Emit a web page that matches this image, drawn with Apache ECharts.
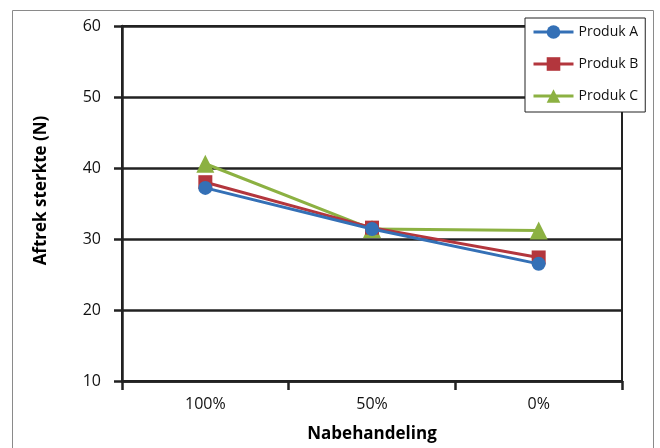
<!DOCTYPE html>
<html><head><meta charset="utf-8">
<script src="https://cdn.jsdelivr.net/npm/echarts@6/dist/echarts.min.js"></script>
<style>html,body{margin:0;padding:0;background:#fff}#c{width:660px;height:448px}</style>
</head><body><div id="c"></div>
<script>
const categories = ['100%', '50%', '0%'];
const produkA = [37.2, 31.4, 26.5];
const produkB = [38.0, 31.6, 27.4];
const produkC = [40.6, 31.4, 31.2];
const yTicks = [10, 20, 30, 40, 50, 60];

const chart = echarts.init(document.getElementById('c'));
const font = '"Open Sans", "DejaVu Sans", sans-serif';
function ser(name, data, color, symbol, size, z) {
  return {
    name, type: 'line', data, symbol, symbolSize: size, z,
    lineStyle: { color, width: 3 },
    itemStyle: { color },
    emphasis: { disabled: true }
  };
}
chart.setOption({
  animation: false,
  textStyle: { fontFamily: font },
  graphic: [{
    type: 'rect', shape: { x: 12.5, y: 10.5, width: 641, height: 460 },
    style: { fill: 'none', stroke: '#8a8a8a', lineWidth: 1 }, z: -1
  }],
  grid: { left: 122, right: 38, top: 26, bottom: 67, show: true, borderColor: '#222', borderWidth: 2 },
  legend: {
    left: 525, top: 18, orient: 'vertical',
    data: ['Produk A', 'Produk B', 'Produk C'],
    backgroundColor: '#fff', borderColor: '#222', borderWidth: 1,
    padding: [7, 7, 9, 7], itemGap: 18, itemWidth: 40, itemHeight: 17,
    lineStyle: { width: 3 },
    textStyle: { fontSize: 14, color: '#111', fontFamily: font }
  },
  xAxis: {
    type: 'category', data: categories, boundaryGap: true,
    name: 'Nabehandeling', nameLocation: 'middle', nameGap: 45,
    nameTextStyle: { fontSize: 17, fontWeight: 'bold', color: '#000', fontFamily: font },
    axisLine: { lineStyle: { color: '#222', width: 2.5 } },
    axisTick: { show: true, length: 9, lineStyle: { color: '#222', width: 2.5 } },
    axisLabel: { fontSize: 16, color: '#111', margin: 15, fontFamily: font },
    splitLine: { show: false }
  },
  yAxis: {
    type: 'value', min: 10, max: 60, interval: 10,
    name: 'Aftrek sterkte (N)', nameLocation: 'middle', nameGap: 72,
    nameTextStyle: { fontSize: 17, fontWeight: 'bold', color: '#000', fontFamily: font, padding: [0, 0, 0, 26] },
    axisLine: { show: true, lineStyle: { color: '#222', width: 2.5 } },
    axisTick: { show: true, length: 8, lineStyle: { color: '#222', width: 2.5 } },
    axisLabel: { fontSize: 16, color: '#111', margin: 21, fontFamily: font,
      formatter: v => yTicks.includes(v) ? String(v) : '' },
    splitLine: { show: true, lineStyle: { color: '#222', width: 2.5 } }
  },
  series: [
    ser('Produk A', produkA, '#3470b6', 'circle', 14, 5),
    ser('Produk B', produkB, '#b3363d', 'rect', 14, 4),
    ser('Produk C', produkC, '#8cb142', 'triangle', 18, 3)
  ]
});
</script></body></html>
